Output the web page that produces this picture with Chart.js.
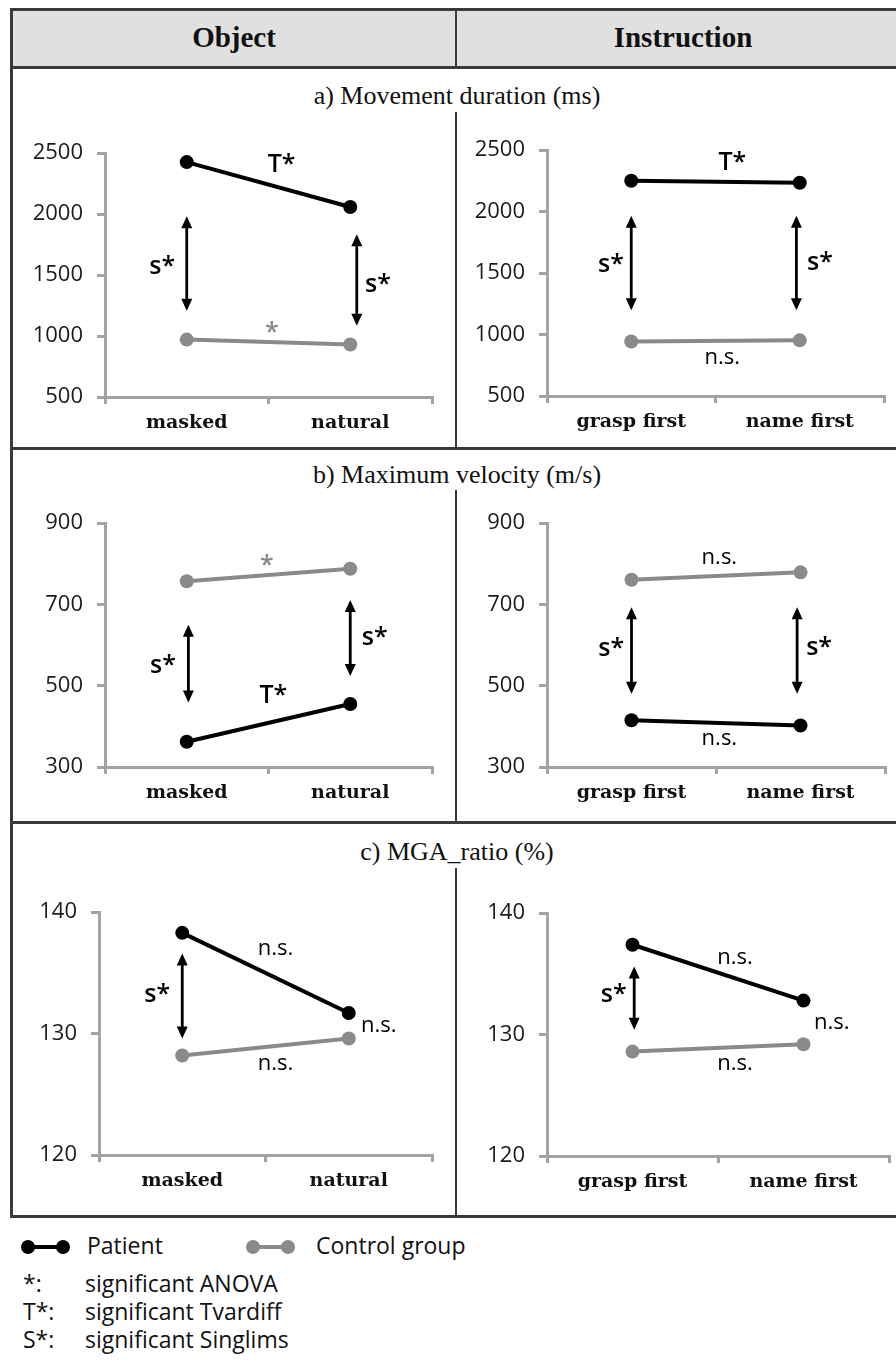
<!DOCTYPE html>
<html>
<head>
<meta charset="utf-8">
<script src="https://cdn.jsdelivr.net/npm/chart.js@4.4.0/dist/chart.umd.min.js"></script>
<style>
  body { margin: 0; width: 896px; height: 1371px; overflow: hidden; background: #fff; position: relative; font-family: "Open Sans", sans-serif; }
  .ln { position: absolute; background: #3a3a3a; }
  .hdr { position: absolute; font-family: "Liberation Serif", serif; font-weight: bold; font-size: 29px; line-height: 40px; text-align: center; color: #111; }
  .ttl { position: absolute; left: 0; width: 914px; font-family: "Liberation Serif", serif; font-size: 26px; line-height: 32px; text-align: center; color: #111; }
  canvas { position: absolute; }
  .lg { position: absolute; font-size: 23px; line-height: 30px; color: #111; white-space: nowrap; }
</style>
</head>
<body>

<!-- table frame -->
<div class="ln" style="left:12px;top:11px;width:900px;height:55px;background:#e0e0e0"></div>
<div class="ln" style="left:10px;top:8px;width:900px;height:3px"></div>
<div class="ln" style="left:10px;top:66px;width:900px;height:3px"></div>
<div class="ln" style="left:10px;top:447px;width:900px;height:3px"></div>
<div class="ln" style="left:10px;top:821px;width:900px;height:3px"></div>
<div class="ln" style="left:10px;top:1215px;width:900px;height:3px"></div>
<div class="ln" style="left:10px;top:8px;width:3px;height:1210px"></div>
<div class="ln" style="left:455px;top:8px;width:2px;height:60px"></div>
<div class="ln" style="left:455px;top:112px;width:2px;height:337px"></div>
<div class="ln" style="left:455px;top:490px;width:2px;height:333px"></div>
<div class="ln" style="left:455px;top:868px;width:2px;height:349px"></div>

<div class="hdr" style="left:12px;top:17px;width:444px">Object</div>
<div class="hdr" style="left:457px;top:17px;width:452px">Instruction</div>

<div class="ttl" style="top:80px">a) Movement duration (ms)</div>
<div class="ttl" style="top:459px">b) Maximum velocity (m/s)</div>
<div class="ttl" style="top:836px">c) MGA_ratio (%)</div>

<canvas id="c1" width="412" height="316" style="left:30px;top:126px"></canvas>
<canvas id="c2" width="422" height="318" style="left:472px;top:123px"></canvas>
<canvas id="c3" width="412" height="316" style="left:30px;top:496px"></canvas>
<canvas id="c4" width="423" height="316" style="left:472px;top:496px"></canvas>
<canvas id="c5" width="418" height="315" style="left:24px;top:885px"></canvas>
<canvas id="c6" width="427" height="315" style="left:472px;top:886px"></canvas>

<!-- legend -->
<svg style="position:absolute;left:20px;top:1237px" width="52" height="20">
  <line x1="8" y1="10" x2="43" y2="10" stroke="#000" stroke-width="4"/>
  <circle cx="8" cy="10" r="7" fill="#000"/><circle cx="43" cy="10" r="7" fill="#000"/>
</svg>
<div class="lg" style="left:87px;top:1230px">Patient</div>
<svg style="position:absolute;left:245px;top:1237px" width="52" height="20">
  <line x1="8" y1="10" x2="43" y2="10" stroke="#8a8a8a" stroke-width="4"/>
  <circle cx="8" cy="10" r="7" fill="#8a8a8a"/><circle cx="43" cy="10" r="7" fill="#8a8a8a"/>
</svg>
<div class="lg" style="left:316px;top:1230px">Control group</div>
<div class="lg" style="left:23px;top:1268px">*:</div>
<div class="lg" style="left:85px;top:1268px">significant ANOVA</div>
<div class="lg" style="left:23px;top:1296px">T*:</div>
<div class="lg" style="left:85px;top:1296px">significant Tvardiff</div>
<div class="lg" style="left:23px;top:1324px">S*:</div>
<div class="lg" style="left:85px;top:1324px">significant Singlims</div>

<script>
// categories
const objectCats = ['masked', 'natural'];
const instructionCats = ['grasp first', 'name first'];

// a) movement duration (ms)
const durObjPatient = [2427, 2059];
const durObjControl = [971, 931];
const durInsPatient = [2251, 2235];
const durInsControl = [943, 953];

// b) maximum velocity (m/s)
const velObjPatient = [362, 455];
const velObjControl = [757, 788];
const velInsPatient = [415, 402];
const velInsControl = [761, 779];

// c) MGA ratio (%)
const mgaObjPatient = [138.3, 131.7];
const mgaObjControl = [128.2, 129.6];
const mgaInsPatient = [137.4, 132.8];
const mgaInsControl = [128.6, 129.2];

const PATIENT = '#000000';
const CONTROL = '#8a8a8a';
const AXIS = '#a3a3a3';

// draws the double arrows and the significance marks
const notesPlugin = {
    id: 'notes',
    afterDatasetsDraw(chart, args, opts) {
        const ctx = chart.ctx;
        const xs = chart.scales.x, ys = chart.scales.y;
        ctx.save();
        (opts.arrows || []).forEach(a => {
            const px = xs.getPixelForValue(a[0]);
            const y1 = ys.getPixelForValue(a[1]);
            const y2 = ys.getPixelForValue(a[2]);
            ctx.strokeStyle = '#000';
            ctx.fillStyle = '#000';
            ctx.lineWidth = 2.8;
            ctx.beginPath();
            ctx.moveTo(px, y1 + 8);
            ctx.lineTo(px, y2 - 8);
            ctx.stroke();
            ctx.beginPath();
            ctx.moveTo(px, y1); ctx.lineTo(px - 5.5, y1 + 12); ctx.lineTo(px + 5.5, y1 + 12);
            ctx.closePath(); ctx.fill();
            ctx.beginPath();
            ctx.moveTo(px, y2); ctx.lineTo(px - 5.5, y2 - 12); ctx.lineTo(px + 5.5, y2 - 12);
            ctx.closePath(); ctx.fill();
        });
        (opts.notes || []).forEach(n => {
            const txt = n[0];
            const big = txt !== 'n.s.';
            ctx.font = (big ? '600 25px' : '400 22px') + ' "Open Sans", sans-serif';
            ctx.fillStyle = n[3] || '#000';
            ctx.textAlign = 'center';
            ctx.textBaseline = 'middle';
            ctx.fillText(txt, xs.getPixelForValue(n[1]), ys.getPixelForValue(n[2]));
        });
        ctx.restore();
    }
};

function makeChart(id, cats, patient, control, yMin, yMax, yStep, arrows, notes) {
    const ctx = document.getElementById(id).getContext('2d');
    return new Chart(ctx, {
        type: 'line',
        data: {
            labels: cats,
            datasets: [
                { label: 'Control group', data: control, borderColor: CONTROL, backgroundColor: CONTROL,
                  borderWidth: 4, pointRadius: 7, pointHoverRadius: 7, pointBorderWidth: 0 },
                { label: 'Patient', data: patient, borderColor: PATIENT, backgroundColor: PATIENT,
                  borderWidth: 4, pointRadius: 7, pointHoverRadius: 7, pointBorderWidth: 0 }
            ]
        },
        options: {
            responsive: false,
            animation: false,
            devicePixelRatio: 1,
            layout: { padding: { top: 20, right: 10, left: 0, bottom: 0 } },
            plugins: {
                legend: { display: false },
                tooltip: { enabled: false },
                notes: { arrows: arrows, notes: notes }
            },
            scales: {
                x: {
                    offset: true,
                    grid: { offset: true, drawOnChartArea: false, drawTicks: true, tickLength: 7, color: AXIS, lineWidth: 3 },
                    border: { color: AXIS, width: 3 },
                    ticks: { color: '#111', padding: 8, font: { family: '"DejaVu Serif", serif', weight: 'bold', size: 19 } },
                    afterFit: s => { s.height = 45; }
                },
                y: {
                    min: yMin, max: yMax,
                    grid: { drawOnChartArea: false, drawTicks: true, tickLength: 8, color: AXIS, lineWidth: 3 },
                    border: { color: AXIS, width: 3 },
                    ticks: { stepSize: yStep, color: '#1a1a1a', padding: 14,
                             font: { family: '"Open Sans", sans-serif', size: 22 },
                             callback: v => String(v) },
                    afterFit: s => { s.width = 75; }
                }
            }
        },
        plugins: [notesPlugin]
    });
}

makeChart('c1', objectCats, durObjPatient, durObjControl, 500, 2500, 500,
    [[0, 1983, 1208], [1.04, 1835, 1085]],
    [['T*', 0.58, 2408], ['s*', -0.15, 1570], ['s*', 1.17, 1420], ['*', 0.52, 1022, CONTROL]]);

makeChart('c2', instructionCats, durInsPatient, durInsControl, 500, 2500, 500,
    [[0, 1967, 1197], [0.98, 1967, 1197]],
    [['T*', 0.6, 2400], ['s*', -0.12, 1570], ['s*', 1.12, 1585], ['n.s.', 0.54, 808]]);

makeChart('c3', objectCats, velObjPatient, velObjControl, 300, 900, 200,
    [[0.01, 650, 459], [1, 711, 524]],
    [['*', 0.49, 796, CONTROL], ['s*', -0.145, 549], ['s*', 1.15, 618], ['T*', 0.53, 475]]);

makeChart('c4', instructionCats, velInsPatient, velInsControl, 300, 900, 200,
    [[0, 693, 480], [0.98, 693, 480]],
    [['n.s.', 0.52, 816], ['s*', -0.12, 590], ['s*', 1.11, 594], ['n.s.', 0.52, 370]]);

makeChart('c5', objectCats, mgaObjPatient, mgaObjControl, 120, 140, 10,
    [[0, 136.6, 129.6]],
    [['n.s.', 0.56, 136.95], ['s*', -0.15, 133.2], ['n.s.', 1.18, 130.64], ['n.s.', 0.56, 127.53]]);

makeChart('c6', instructionCats, mgaInsPatient, mgaInsControl, 120, 140, 10,
    [[0.01, 135.6, 130.4]],
    [['n.s.', 0.6, 136.3], ['s*', -0.11, 133.3], ['n.s.', 1.165, 131.0], ['n.s.', 0.6, 127.6]]);
</script>
</body>
</html>
